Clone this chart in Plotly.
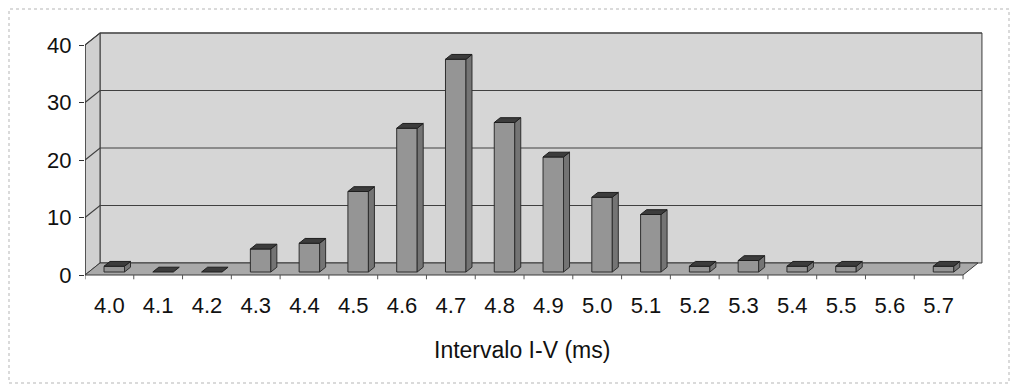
import plotly.graph_objects as go

categories = ["4.0", "4.1", "4.2", "4.3", "4.4", "4.5", "4.6", "4.7", "4.8",
              "4.9", "5.0", "5.1", "5.2", "5.3", "5.4", "5.5", "5.6", "5.7"]
counts = [1, 0, 0, 4, 5, 14, 25, 37, 26, 20, 13, 10, 1, 2, 1, 1, None, 1]
y_ticks = [0, 10, 20, 30, 40]
x_title = "Intervalo I-V (ms)"

FONT = "Arial, Liberation Sans, sans-serif"
n = len(categories)
idx = list(range(n))

# 3-D projection parameters (data units)
DX, DY = 0.3075, 2.09          # depth offset front -> back wall
YMAX = 40
x0, x1 = -0.5, n - 0.5         # front floor extent
t_front, t_back = 0.25, 0.65   # bar depth position
bw = 0.42                      # bar width
bx_off = 0.1

def back(x, y):
    return x + DX, y + DY

fig = go.Figure()

def poly(xs, ys, fill, line="#3a3a3a", lw=1):
    fig.add_trace(go.Scatter(x=xs, y=ys, mode="lines", fill="toself",
                             fillcolor=fill, line=dict(color=line, width=lw),
                             hoverinfo="skip", showlegend=False))

def seg(xs, ys, color="#3a3a3a", lw=1):
    fig.add_trace(go.Scatter(x=xs, y=ys, mode="lines",
                             line=dict(color=color, width=lw),
                             hoverinfo="skip", showlegend=False))

# back wall
bl = back(x0, 0); tl = back(x0, YMAX); br = back(x1, 0); tr = back(x1, YMAX)
poly([bl[0], br[0] + 0.08, tr[0] + 0.08, tl[0], bl[0]],
     [bl[1], br[1], tr[1], tl[1], bl[1]], "#d6d6d6")
# left wall
poly([x0, x0, tl[0], bl[0], x0], [0, YMAX, tl[1], bl[1], 0], "#d0d0d0")
# floor
poly([x0, x1, br[0], bl[0], x0], [0, 0, br[1], bl[1], 0], "#a9a9a9")

# gridlines (back wall + left wall)
gx, gy = [], []
for v in y_ticks[1:]:
    fx, fy = x0, v
    bx, by = back(x0, v)
    ex, ey = back(x1, v)
    gx += [fx, bx, ex + 0.08, None]
    gy += [fy, by, ey, None]
seg(gx, gy, "#404040", 1.2)

# front vertical axis line
seg([x0, x0], [0, YMAX], "#333333", 1.2)

# category boundary ticks below floor
tx, ty = [], []
for k in range(n + 1):
    tx += [k - 0.5, k - 0.5, None]
    ty += [0, -0.75, None]
seg(tx, ty, "#555555", 1)

# bars (front, side and top faces)
base = t_front * DY
ddx = (t_back - t_front) * DX
ddy = (t_back - t_front) * DY
fx_, fy_, sx, sy, topx, topy = [], [], [], [], [], []
for i, v in zip(idx, counts):
    if v is None:
        continue
    xc = i + bx_off
    xl, xr = xc - bw / 2, xc + bw / 2
    yb, yt = base, base + v
    if v > 0:
        fx_ += [xl, xr, xr, xl, xl, None]
        fy_ += [yb, yb, yt, yt, yb, None]
        sx += [xr, xr + ddx, xr + ddx, xr, xr, None]
        sy += [yb, yb + ddy, yt + ddy, yt, yb, None]
    topx += [xl, xr, xr + ddx, xl + ddx, xl, None]
    topy += [yt, yt, yt + ddy, yt + ddy, yt, None]
poly(fx_, fy_, "#959595", "#2e2e2e")
poly(sx, sy, "#747474", "#2e2e2e")
poly(topx, topy, "#3c3c3c", "#1e1e1e")

# layout geometry (pixels)
L, R, T, B = 85, 25, 32, 103
W, H = 1010, 385
plot_w = W - L - R
plot_h = H - T - B
px_x = 48.78
px_y = 5.75
x_range = [x0, x0 + plot_w / px_x]
y_range = [-(282 - 275) / px_y, (275 - 32) / px_y]

fig.update_layout(
    width=W, height=H,
    margin=dict(l=L, r=R, t=T, b=B),
    paper_bgcolor="white", plot_bgcolor="white",
    xaxis=dict(range=x_range, tickvals=idx, ticktext=categories,
               showgrid=False, zeroline=False, showline=False, ticks="",
               tickfont=dict(family=FONT, size=22, color="#111111"),
               ticklabelstandoff=8, fixedrange=True),
    yaxis=dict(range=y_range, tickvals=y_ticks, showgrid=False, zeroline=False,
               showline=False, ticks="outside", ticklen=5, tickcolor="#333333",
               tickfont=dict(family=FONT, size=22, color="#111111"),
               ticklabelstandoff=3, fixedrange=True),
    annotations=[dict(text=x_title, xref="paper", yref="paper",
                      x=(522 - L) / plot_w, y=(282 - 350) / plot_h,
                      xanchor="center", yanchor="middle", showarrow=False,
                      font=dict(family=FONT, size=23, color="#111111"))],
    shapes=[dict(type="rect", xref="paper", yref="paper",
                 x0=(9 - L) / plot_w, x1=(1009 - L) / plot_w,
                 y0=(282 - 383) / plot_h, y1=(282 - 9) / plot_h,
                 line=dict(color="#b5b5b5", width=1, dash="dot"))],
)

fig.write_html("out.html")
